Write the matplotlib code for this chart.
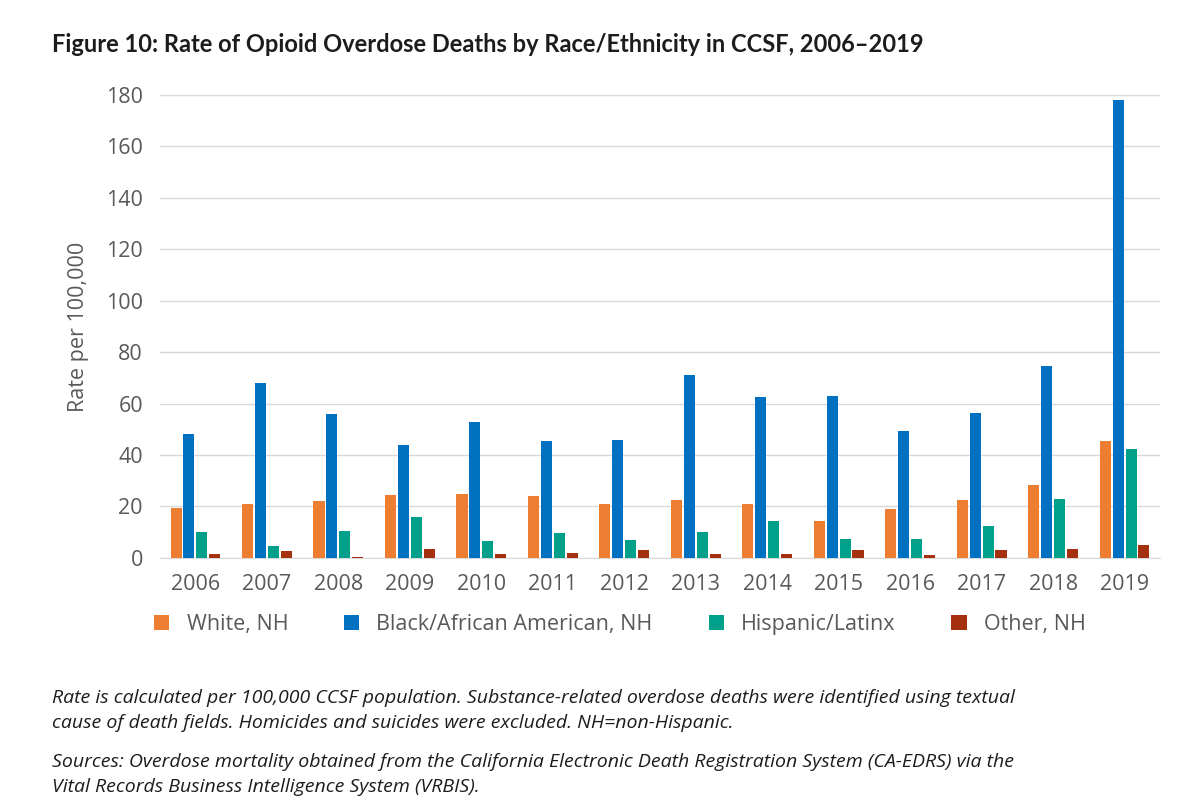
import matplotlib
matplotlib.use("Agg")
import matplotlib.pyplot as plt
import numpy as np

years = [str(y) for y in range(2006, 2020)]
white = [19.5, 21, 22, 24.5, 25, 24, 21, 22.5, 21, 14.5, 19, 22.5, 28.5, 45.5]
black = [48, 68, 56, 44, 53, 45.5, 46, 71, 62.5, 63, 49.5, 56.5, 74.5, 178]
hispanic = [10, 4.5, 10.5, 16, 6.5, 9.5, 7, 10, 14.5, 7.5, 7.5, 12.5, 23, 42.5]
other = [1.5, 2.5, 0.5, 3.5, 1.5, 2, 3, 1.5, 1.5, 3, 1, 3, 3.5, 5]

series = [("White, NH", white, "#ED7D31"),
          ("Black/African American, NH", black, "#0070C0"),
          ("Hispanic/Latinx", hispanic, "#00A08A"),
          ("Other, NH", other, "#A5300F")]

plt.rcParams.update({"font.family": "Open Sans", "text.color": "#1c1c1c"})

fig = plt.figure(figsize=(12, 7.98), dpi=100)
ax = fig.add_axes([0.133, 0.301, 0.834, 0.58])
x = np.arange(len(years))
offs = [-0.27, -0.09, 0.09, 0.27]
for (name, vals, col), o in zip(series, offs):
    ax.bar(x + o, vals, width=0.155, color=col, label=name, zorder=3)

ax.set_ylim(0, 180)
ax.set_xlim(-0.5, len(years) - 0.5)
ax.set_yticks(range(0, 181, 20))
ax.set_xticks(x)
ax.set_xticklabels(years)
ax.tick_params(length=0, labelsize=15.5, colors="#595959", pad=12)
ax.grid(axis="y", color="#d9d9d9", linewidth=1, zorder=0)
for s in ["top", "right", "left"]:
    ax.spines[s].set_visible(False)
ax.spines["bottom"].set_color("#d9d9d9")
ax.set_ylabel("Rate per 100,000", fontsize=15.5, color="#595959", labelpad=12)

ax.legend(loc="upper center", bbox_to_anchor=(0.46, -0.08), ncol=4, frameon=False,
          fontsize=15.5, handlelength=0.7, handleheight=0.7, columnspacing=2.6,
          labelcolor="#595959")

fig.text(0.043, 0.935, "Figure 10: Rate of Opioid Overdose Deaths by Race/Ethnicity in CCSF, 2006\u20132019",
         fontsize=17, fontweight="bold", family="Lato")
fig.text(0.043, 0.088, "Rate is calculated per 100,000 CCSF population. Substance-related overdose deaths were identified using textual\n"
         "cause of death fields. Homicides and suicides were excluded. NH=non-Hispanic.",
         fontsize=14, style="italic", linespacing=1.45)
fig.text(0.043, 0.008, "Sources: Overdose mortality obtained from the California Electronic Death Registration System (CA-EDRS) via the\n"
         "Vital Records Business Intelligence System (VRBIS).",
         fontsize=14, style="italic", linespacing=1.45)

fig.savefig("out.png", facecolor="white")
